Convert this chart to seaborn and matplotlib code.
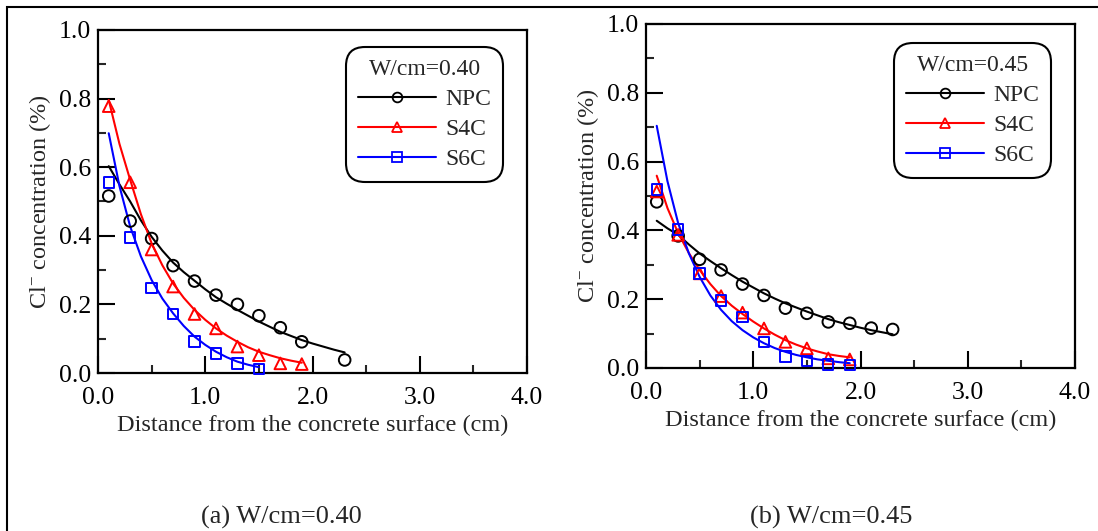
import numpy as np
import pandas as pd
import matplotlib
matplotlib.use("Agg")
import matplotlib.pyplot as plt
from matplotlib.lines import Line2D
from matplotlib.patches import Rectangle
import seaborn as sns

# ---------------- data ----------------
series_names = ["NPC", "S4C", "S6C"]
series_colors = ["black", "red", "blue"]
series_markers = ["o", "^", "s"]

# (a) W/cm = 0.40 measured points
a_npc_x = [0.1, 0.3, 0.5, 0.7, 0.9, 1.1, 1.3, 1.5, 1.7, 1.9, 2.3]
a_npc_y = [0.516, 0.443, 0.392, 0.313, 0.268, 0.227, 0.200, 0.167, 0.132, 0.091, 0.038]
a_s4c_x = [0.1, 0.3, 0.5, 0.7, 0.9, 1.1, 1.3, 1.5, 1.7, 1.9]
a_s4c_y = [0.778, 0.556, 0.360, 0.252, 0.172, 0.130, 0.077, 0.052, 0.028, 0.026]
a_s6c_x = [0.1, 0.3, 0.5, 0.7, 0.9, 1.1, 1.3, 1.5]
a_s6c_y = [0.555, 0.395, 0.248, 0.172, 0.092, 0.057, 0.028, 0.011]

# (a) fitted curves
a_npc_fit_x = [0.1, 0.2, 0.3, 0.4, 0.5, 0.6, 0.7, 0.8, 0.9, 1.0, 1.1, 1.2,
               1.3, 1.4, 1.5, 1.6, 1.7, 1.8, 1.9, 2.0, 2.1, 2.2, 2.3]
a_npc_fit_y = [0.603, 0.550, 0.500, 0.445, 0.397, 0.357, 0.322, 0.294, 0.269,
               0.244, 0.221, 0.202, 0.184, 0.167, 0.150, 0.135, 0.120, 0.108,
               0.096, 0.086, 0.077, 0.068, 0.060]
a_s4c_fit_x = [0.1, 0.2, 0.3, 0.4, 0.5, 0.6, 0.7, 0.8, 0.9, 1.0, 1.1, 1.2,
               1.3, 1.4, 1.5, 1.6, 1.7, 1.8, 1.9]
a_s4c_fit_y = [0.796, 0.668, 0.563, 0.463, 0.378, 0.314, 0.261, 0.219, 0.184,
               0.155, 0.130, 0.109, 0.091, 0.075, 0.062, 0.052, 0.043, 0.036, 0.030]
a_s6c_fit_x = [0.1, 0.2, 0.3, 0.4, 0.5, 0.6, 0.7, 0.8, 0.9, 1.0, 1.1, 1.2,
               1.3, 1.4, 1.5]
a_s6c_fit_y = [0.699, 0.545, 0.427, 0.340, 0.271, 0.217, 0.174, 0.137, 0.106,
               0.082, 0.062, 0.046, 0.033, 0.024, 0.017]

# (b) W/cm = 0.45 measured points
b_npc_x = [0.1, 0.3, 0.5, 0.7, 0.9, 1.1, 1.3, 1.5, 1.7, 1.9, 2.1, 2.3]
b_npc_y = [0.483, 0.384, 0.316, 0.285, 0.244, 0.211, 0.174, 0.159, 0.134, 0.130, 0.116, 0.112]
b_s4c_x = [0.1, 0.3, 0.5, 0.7, 0.9, 1.1, 1.3, 1.5, 1.7, 1.9]
b_s4c_y = [0.513, 0.387, 0.275, 0.209, 0.161, 0.115, 0.076, 0.057, 0.028, 0.025]
b_s6c_x = [0.1, 0.3, 0.5, 0.7, 0.9, 1.1, 1.3, 1.5, 1.7, 1.9]
b_s6c_y = [0.519, 0.403, 0.275, 0.196, 0.149, 0.076, 0.033, 0.021, 0.010, 0.008]

# (b) fitted curves
b_npc_fit_x = [0.1, 0.2, 0.3, 0.4, 0.5, 0.6, 0.7, 0.8, 0.9, 1.0, 1.1, 1.2,
               1.3, 1.4, 1.5, 1.6, 1.7, 1.8, 1.9, 2.0, 2.1, 2.2, 2.3]
b_npc_fit_y = [0.428, 0.406, 0.387, 0.359, 0.333, 0.311, 0.290, 0.270, 0.251,
               0.234, 0.217, 0.202, 0.188, 0.176, 0.164, 0.153, 0.142, 0.133,
               0.125, 0.117, 0.110, 0.104, 0.098]
b_s4c_fit_x = [0.1, 0.2, 0.3, 0.4, 0.5, 0.6, 0.7, 0.8, 0.9, 1.0, 1.1, 1.2,
               1.3, 1.4, 1.5, 1.6, 1.7, 1.8, 1.9]
b_s4c_fit_y = [0.559, 0.465, 0.392, 0.334, 0.285, 0.244, 0.209, 0.181, 0.157,
               0.135, 0.115, 0.097, 0.081, 0.068, 0.057, 0.048, 0.040, 0.035, 0.031]
b_s6c_fit_x = [0.1, 0.2, 0.3, 0.4, 0.5, 0.6, 0.7, 0.8, 0.9, 1.0, 1.1, 1.2,
               1.3, 1.4, 1.5, 1.6, 1.7, 1.8, 1.9]
b_s6c_fit_y = [0.704, 0.543, 0.421, 0.333, 0.265, 0.211, 0.169, 0.136, 0.110,
               0.089, 0.072, 0.058, 0.047, 0.038, 0.031, 0.025, 0.021, 0.017, 0.014]

x_ticks = [0.0, 1.0, 2.0, 3.0, 4.0]
y_ticks = [0.0, 0.2, 0.4, 0.6, 0.8, 1.0]
x_label = "Distance from the concrete surface (cm)"
y_label = r"Cl$^{\mathsf{-}}$ concentration (%)"
legend_titles = ["W/cm=0.40", "W/cm=0.45"]
captions = ["(a) W/cm=0.40", "(b) W/cm=0.45"]

# ---------------- style ----------------
sns.set_theme(style="ticks")
plt.rcParams["font.family"] = ["Liberation Serif", "DejaVu Serif"]
plt.rcParams["mathtext.fontset"] = "custom"
plt.rcParams["mathtext.rm"] = "Liberation Serif"
plt.rcParams["mathtext.it"] = "Liberation Serif"
plt.rcParams["mathtext.sf"] = "Liberation Serif"

fig = plt.figure(figsize=(10.98, 5.31), dpi=100)
axes = [fig.add_axes([98 / 1098, (531 - 373) / 531, 429 / 1098, 343 / 531]),
        fig.add_axes([646 / 1098, (531 - 368) / 531, 429 / 1098, 344 / 531])]

panels = [
    dict(pts=[(a_npc_x, a_npc_y), (a_s4c_x, a_s4c_y), (a_s6c_x, a_s6c_y)],
         fits=[(a_npc_fit_x, a_npc_fit_y), (a_s4c_fit_x, a_s4c_fit_y), (a_s6c_fit_x, a_s6c_fit_y)],
         legend_bbox=(347, 48, 505, 180)),
    dict(pts=[(b_npc_x, b_npc_y), (b_s4c_x, b_s4c_y), (b_s6c_x, b_s6c_y)],
         fits=[(b_npc_fit_x, b_npc_fit_y), (b_s4c_fit_x, b_s4c_fit_y), (b_s6c_fit_x, b_s6c_fit_y)],
         legend_bbox=(895, 44, 1052, 176)),
]

for i, (ax, p) in enumerate(zip(axes, panels)):
    for j, name in enumerate(series_names):
        fx, fy = p["fits"][j]
        df_fit = pd.DataFrame({"x": fx, "y": fy})
        sns.lineplot(data=df_fit, x="x", y="y", ax=ax, color=series_colors[j],
                     lw=1.5, sort=True, estimator=None, zorder=2)
        px, py = p["pts"][j]
        df_pt = pd.DataFrame({"x": px, "y": py})
        ax.scatter(df_pt["x"], df_pt["y"], marker=series_markers[j],
                   facecolors="none", edgecolors=series_colors[j],
                   s=70 if series_markers[j] != "s" else 55,
                   linewidths=1.4, zorder=3, clip_on=False)
    ax.set_xlim(0, 4.0)
    ax.set_ylim(0, 1.0)
    ax.set_xticks(x_ticks)
    ax.set_xticklabels([f"{v:.1f}" for v in x_ticks])
    ax.set_yticks(y_ticks)
    ax.set_yticklabels([f"{v:.1f}" for v in y_ticks])
    ax.set_xticks(np.arange(0.5, 4.0, 1.0), minor=True)
    ax.set_yticks(np.arange(0.1, 1.0, 0.2), minor=True)
    ax.tick_params(which="major", direction="in", length=12, width=1.5,
                   labelsize=18.5, colors="black", pad=5)
    ax.tick_params(which="minor", direction="in", length=6, width=1.5)
    ax.tick_params(top=False, right=False, which="both")
    ax.tick_params(axis="x", which="major", pad=10)
    for s in ax.spines.values():
        s.set_visible(True)
        s.set_linewidth(1.6)
        s.set_color("black")
    ax.set_xlabel(x_label, fontsize=17.5, labelpad=4)
    ax.set_ylabel(y_label, fontsize=17.5, labelpad=4)

    handles = [Line2D([0], [0], color=series_colors[j], lw=1.5,
                      marker=series_markers[j], markerfacecolor="none",
                      markeredgecolor=series_colors[j], markersize=7,
                      markeredgewidth=1.3, label=series_names[j])
               for j in range(3)]
    x0, y0, x1, y1 = p["legend_bbox"]
    leg = ax.legend(handles=handles, title=legend_titles[i], loc="upper left",
                    bbox_to_anchor=((x0 + 4) / 1098, 1 - (y0 + 4) / 531),
                    bbox_transform=fig.transFigure,
                    fontsize=17, title_fontsize=17, numpoints=1,
                    handlelength=3.3, handletextpad=0.4, labelspacing=0.36,
                    borderpad=0.3, frameon=True, fancybox=True, framealpha=1,
                    borderaxespad=0)
    leg.get_frame().set_edgecolor("black")
    leg.get_frame().set_linewidth(1.5)
    leg.get_frame().set_boxstyle("round", pad=0.2, rounding_size=0.8)

fig.text(281 / 1098, 1 - 517 / 531, captions[0], ha="center", va="center", fontsize=19)
fig.text(831 / 1098, 1 - 517 / 531, captions[1], ha="center", va="center", fontsize=19)

fig.patches.append(Rectangle((7 / 1098, -0.2), 1.2, 1 - 7 / 531 + 0.2,
                             transform=fig.transFigure, fill=False,
                             edgecolor="black", lw=1.5, clip_on=False))

fig.savefig("out.png", dpi=100)
